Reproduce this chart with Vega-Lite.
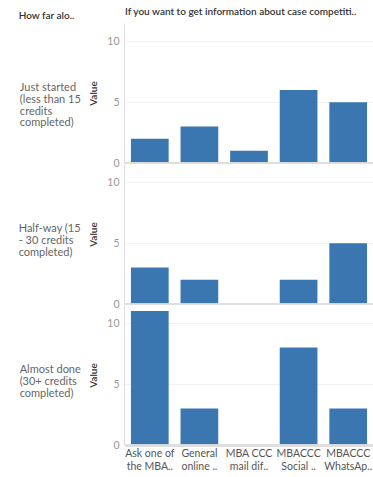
{
  "$schema": "https://vega.github.io/schema/vega-lite/v6.json",
  "padding": {"left": 18, "right": 0, "top": 7, "bottom": 4},
  "background": "white",
  "title": {"text": "How far alo..", "anchor": "start", "frame": "bounds", "fontSize": 10, "fontWeight": 600, "color": "#333", "font": "Lato", "offset": -14},
  "data": {"values": [
    {"stage": "Just started (less than 15 credits completed)", "channel": "Ask one of the MBA..", "q": "If you want to get information about case competiti..", "value": 2},
    {"stage": "Just started (less than 15 credits completed)", "channel": "General online ..", "q": "If you want to get information about case competiti..", "value": 3},
    {"stage": "Just started (less than 15 credits completed)", "channel": "MBA CCC mail dif..", "q": "If you want to get information about case competiti..", "value": 1},
    {"stage": "Just started (less than 15 credits completed)", "channel": "MBACCC Social ..", "q": "If you want to get information about case competiti..", "value": 6},
    {"stage": "Just started (less than 15 credits completed)", "channel": "MBACCC WhatsAp..", "q": "If you want to get information about case competiti..", "value": 5},
    {"stage": "Half-way (15 - 30 credits completed)", "channel": "Ask one of the MBA..", "q": "If you want to get information about case competiti..", "value": 3},
    {"stage": "Half-way (15 - 30 credits completed)", "channel": "General online ..", "q": "If you want to get information about case competiti..", "value": 2},
    {"stage": "Half-way (15 - 30 credits completed)", "channel": "MBACCC Social ..", "q": "If you want to get information about case competiti..", "value": 2},
    {"stage": "Half-way (15 - 30 credits completed)", "channel": "MBACCC WhatsAp..", "q": "If you want to get information about case competiti..", "value": 5},
    {"stage": "Almost done (30+ credits completed)", "channel": "Ask one of the MBA..", "q": "If you want to get information about case competiti..", "value": 11},
    {"stage": "Almost done (30+ credits completed)", "channel": "General online ..", "q": "If you want to get information about case competiti..", "value": 3},
    {"stage": "Almost done (30+ credits completed)", "channel": "MBACCC Social ..", "q": "If you want to get information about case competiti..", "value": 8},
    {"stage": "Almost done (30+ credits completed)", "channel": "MBACCC WhatsAp..", "q": "If you want to get information about case competiti..", "value": 3}
  ]},
  "facet": {
    "row": {
      "field": "stage", "type": "nominal",
      "sort": ["Just started (less than 15 credits completed)", "Half-way (15 - 30 credits completed)", "Almost done (30+ credits completed)"],
      "header": {
        "title": null, "labelAngle": 0, "labelAlign": "left", "labelOrient": "left", "labelBaseline": "bottom",
        "labelFont": "Lato", "labelFontSize": 11, "labelColor": "#666", "labelLineHeight": 11.8, "labelPadding": 8,
        "labelExpr": "datum.value == 'Just started (less than 15 credits completed)' ? ['Just started', '(less than 15', 'credits', 'completed)'] : datum.value == 'Half-way (15 - 30 credits completed)' ? ['Half-way (15', '- 30 credits', 'completed)'] : ['Almost done', '(30+ credits', 'completed)']"
      }
    },
    "column": {
      "field": "q", "type": "nominal",
      "header": {"title": null, "labelAnchor": "start", "labelAlign": "left", "labelFont": "Lato", "labelFontSize": 10, "labelFontWeight": 600, "labelColor": "#333", "labelPadding": 6}
    }
  },
  "spacing": {"row": 0, "column": 0},
  "spec": {
    "width": 248,
    "height": 140,
    "layer": [
      {
        "mark": {"type": "bar", "color": "#3a76af", "width": {"band": 0.76}},
        "encoding": {
          "x": {"field": "channel", "type": "nominal", "sort": null, "title": null,
            "scale": {"paddingInner": 0, "paddingOuter": 0},
            "axis": {"labelAngle": 0, "labelFont": "Lato", "labelFontSize": 10.5, "labelColor": "#555", "ticks": false, "domainColor": "#ddd", "labelPadding": 2, "labelLineHeight": 13,
              "labelExpr": "datum.value == 'Ask one of the MBA..' ? ['Ask one of', 'the MBA..'] : datum.value == 'General online ..' ? ['General', 'online ..'] : datum.value == 'MBA CCC mail dif..' ? ['MBA CCC', 'mail dif..'] : datum.value == 'MBACCC Social ..' ? ['MBACCC', 'Social ..'] : ['MBACCC', 'WhatsAp..']"}},
          "y": {"field": "value", "type": "quantitative", "title": "Value",
            "scale": {"domain": [0, 11.5], "nice": false},
            "axis": {"values": [0, 5, 10], "ticks": false, "labelFont": "Lato", "labelFontSize": 10.5, "labelColor": "#999", "labelPadding": 5,
              "titleFont": "Lato", "titleFontSize": 10, "titleFontWeight": 600, "titleColor": "#333", "titlePadding": 8,
              "domainColor": "#ddd", "gridColor": "#f2f2f2"}}
        }
      },
      {
        "mark": {"type": "rule", "color": "#ddd"},
        "encoding": {"y": {"datum": 0}}
      }
    ]
  },
  "config": {"view": {"stroke": null}, "font": "Lato"}
}
